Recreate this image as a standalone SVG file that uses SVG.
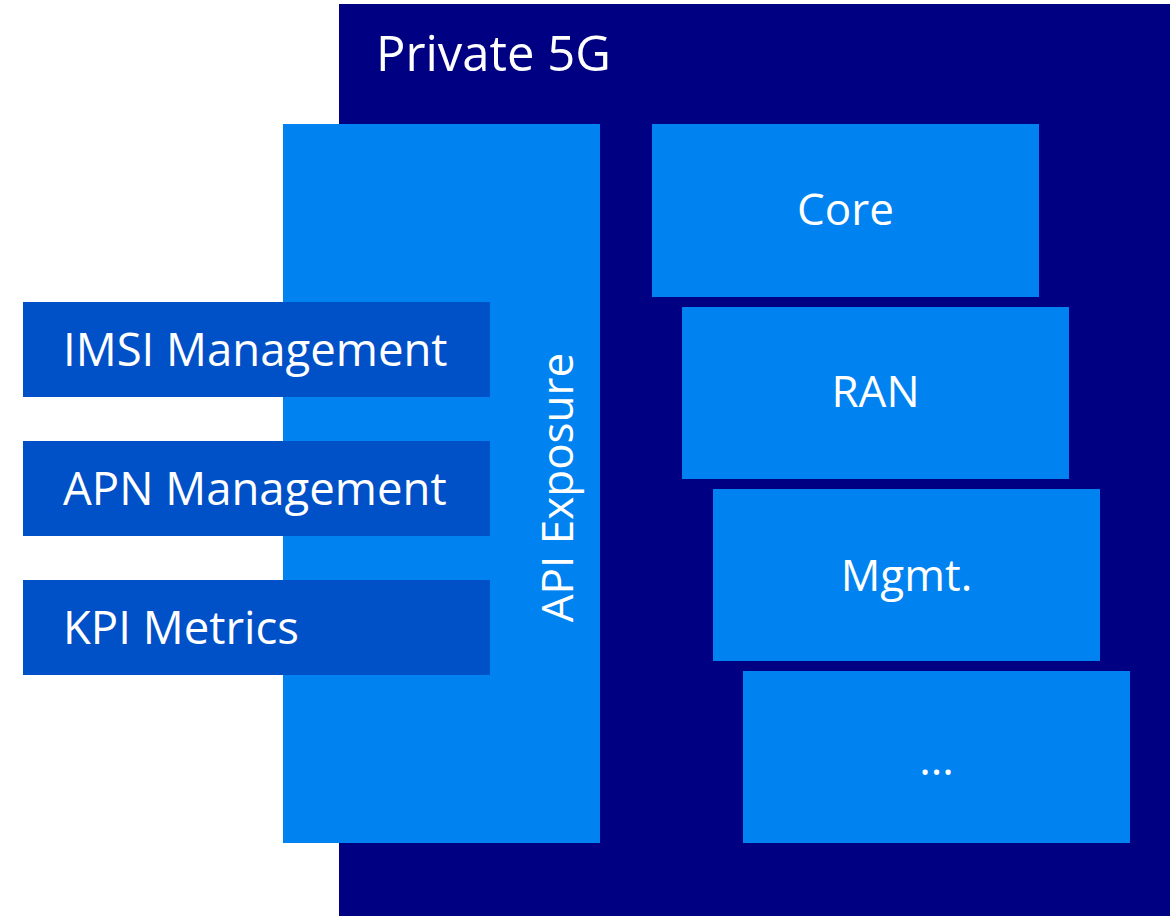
<svg xmlns="http://www.w3.org/2000/svg" width="1176" height="916" viewBox="0 0 1176 916">
<style>
.dark{fill:#000082}
.light{fill:#0082F0}
.mid{fill:#0050C8}
text{font-family:"Open Sans","Liberation Sans",sans-serif;fill:#ffffff}
.lbl{font-size:44px}
.side{font-size:45.5px}
.c{text-anchor:middle}
</style>
<rect width="1176" height="916" fill="#ffffff"/>
<g id="private5g">
<rect class="dark" x="339" y="4" width="831" height="912"/>
<text x="376" y="71" style="font-size:49px">Private 5G</text>
</g>
<g id="api-exposure">
<rect class="light" x="283" y="124" width="317" height="719"/>
<text class="lbl c" transform="translate(573,487.5) rotate(-90)">API Exposure</text>
</g>
<g id="core">
<rect class="light" x="652" y="124" width="387" height="173"/>
<text class="lbl c" x="845.5" y="225">Core</text>
</g>
<g id="ran">
<rect class="light" x="682" y="307" width="387" height="172"/>
<text class="lbl c" x="875.5" y="407">RAN</text>
</g>
<g id="mgmt">
<rect class="light" x="713" y="489" width="387" height="172"/>
<text class="lbl c" x="906.5" y="591">Mgmt.</text>
</g>
<g id="more">
<rect class="light" x="743" y="671" width="387" height="172"/>
<text class="lbl c" x="936.5" y="775">...</text>
</g>
<g id="imsi">
<rect class="mid" x="23" y="302" width="467" height="95"/>
<text class="side" x="63" y="366">IMSI Management</text>
</g>
<g id="apn">
<rect class="mid" x="23" y="441" width="467" height="95"/>
<text class="side" x="63" y="505">APN Management</text>
</g>
<g id="kpi">
<rect class="mid" x="23" y="580" width="467" height="95"/>
<text class="side" x="63" y="644">KPI Metrics</text>
</g>
<g id="connectors"></g>
</svg>
